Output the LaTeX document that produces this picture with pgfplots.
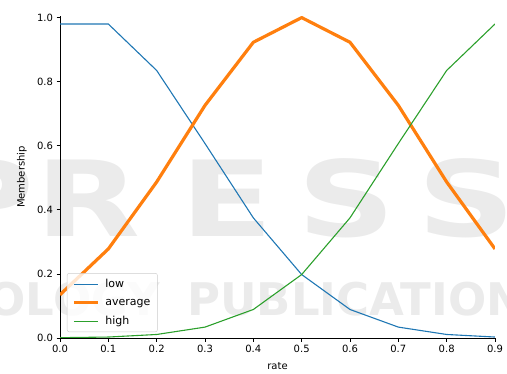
\documentclass[border=0pt]{standalone}
\usepackage{fontspec}
\setmainfont{DejaVu Sans}
\usepackage{pgfplots}
\pgfplotsset{compat=1.18}

\definecolor{lowblue}{HTML}{1F77B4}
\definecolor{avgorange}{HTML}{FF7F0E}
\definecolor{highgreen}{HTML}{2CA02C}
\definecolor{wmgray}{HTML}{EBEBEB}

\begin{document}
\begin{tikzpicture}
% publisher watermark behind the plot
\begin{scope}[every node/.style={text=wmgray, inner sep=0pt}]
  \node[anchor=base, xscale=1.3] at (-75bp,101bp) {\fontsize{105bp}{105bp}\selectfont\bfseries P};
  \node[anchor=base, xscale=1.3] at (28bp,101bp) {\fontsize{105bp}{105bp}\selectfont\bfseries R};
  \node[anchor=base, xscale=1.3] at (167bp,101bp) {\fontsize{105bp}{105bp}\selectfont\bfseries E};
  \node[anchor=base, xscale=1.3] at (287bp,101bp) {\fontsize{105bp}{105bp}\selectfont\bfseries S};
  \node[anchor=base, xscale=1.3] at (407bp,101bp) {\fontsize{105bp}{105bp}\selectfont\bfseries S};
  \node[anchor=base west] at (127bp,23bp) {\fontsize{45bp}{45bp}\selectfont\bfseries PUBLICATIONS};
  \node[anchor=base east] at (100bp,23bp) {\fontsize{45bp}{45bp}\selectfont\bfseries NOLOGY};
\end{scope}

\begin{axis}[
  at={(0,0)}, anchor=south west,
  scale only axis, width=435bp, height=322bp,
  xmin=0, xmax=0.9, ymin=0, ymax=1.005,
  axis lines=left,
  axis line style={-, line width=0.8bp, black},
  tick align=outside,
  major tick length=3.5bp,
  tick style={black, line width=0.8bp},
  xtick={0,0.1,0.2,0.3,0.4,0.5,0.6,0.7,0.8,0.9},
  ytick={0,0.2,0.4,0.6,0.8,1.0},
  font=\fontsize{10bp}{12bp}\selectfont,
  xticklabel style={/pgf/number format/.cd, fixed, fixed zerofill, precision=1, assume math mode=true},
  yticklabel style={/pgf/number format/.cd, fixed, fixed zerofill, precision=1, assume math mode=true},
  xlabel={rate},
  ylabel={Membership},
  xlabel style={at={(axis description cs:0.5,-0.087)}, anchor=center},
  ylabel style={at={(axis description cs:-0.0874,0.5)}, anchor=center, rotate=0},
  legend cell align=left,
  legend style={
    at={(axis description cs:0.016,0.0186)}, anchor=south west,
    draw=black!20, fill=white, fill opacity=0.8, text opacity=1,
    rounded corners=2bp, inner xsep=4bp, inner ysep=1.5bp,
    row sep=0bp,
    font=\fontsize{11bp}{13bp}\selectfont,
    nodes={text height=8.5bp, text depth=2.5bp, inner ysep=3.75bp, inner xsep=3bp},
  },
  legend image code/.code={
    \path (-1bp,0bp) (27bp,0bp);
    \draw[#1] (0bp,0bp) -- (24bp,0bp);
  },
]
\addplot[lowblue, line width=1.1bp] coordinates {
  (0.0,0.980) (0.1,0.980) (0.2,0.835) (0.3,0.607) (0.4,0.375)
  (0.5,0.198) (0.6,0.089) (0.7,0.034) (0.8,0.011) (0.9,0.003)
};
\addlegendentry{low}
\addplot[avgorange, line width=3.2bp, line join=round] coordinates {
  (0.0,0.135) (0.1,0.278) (0.2,0.487) (0.3,0.726) (0.4,0.923)
  (0.5,1.000) (0.6,0.923) (0.7,0.726) (0.8,0.487) (0.9,0.278)
};
\addlegendentry{average}
\addplot[highgreen, line width=1.1bp] coordinates {
  (0.0,0.001) (0.1,0.003) (0.2,0.011) (0.3,0.034) (0.4,0.089)
  (0.5,0.198) (0.6,0.375) (0.7,0.607) (0.8,0.835) (0.9,0.980)
};
\addlegendentry{high}
\end{axis}

\pgfresetboundingbox
\path (-60bp,-36bp) rectangle (447bp,338bp);
\end{tikzpicture}
\end{document}
